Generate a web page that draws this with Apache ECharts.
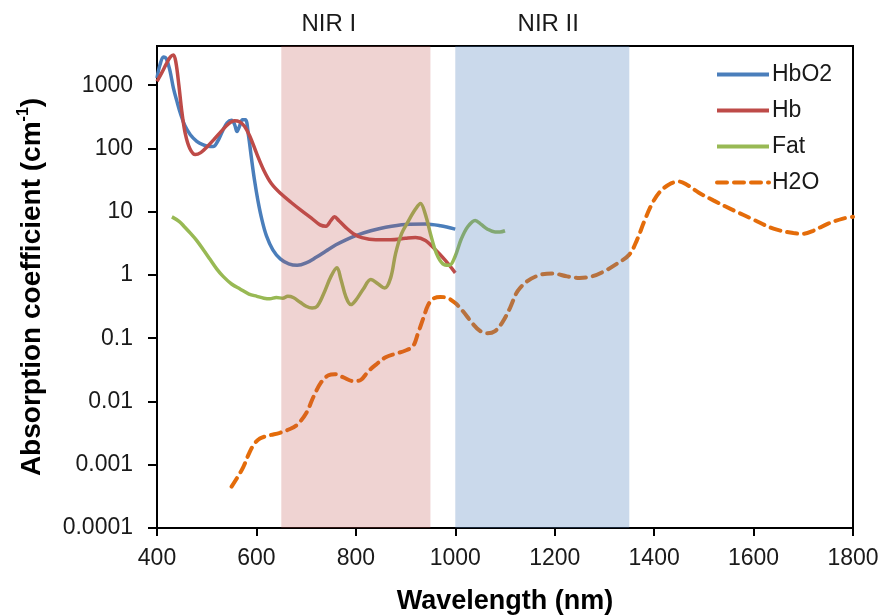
<!DOCTYPE html>
<html>
<head>
<meta charset="utf-8">
<script src="https://cdn.jsdelivr.net/npm/echarts@6/dist/echarts.min.js"></script>
<style>
  html, body { margin: 0; padding: 0; background: #fff; }
  #chart { width: 887px; height: 615px; }
</style>
</head>
<body>
<div id="chart"></div>
<script>
// Absorption spectra of tissue chromophores, [wavelength nm, coefficient cm^-1]
const hbo2 = [[400,1300],[406,2100],[413,2800],[419,2600],[426,1700],[433,900],[440,560],[447,360],[456,230],[467,165],[480,130],[492,115],[503,108],[513,107],[522,130],[532,190],[541,255],[550,280],[556,240],[561,185],[566,225],[572,285],[578,285],[584,160],[590,70],[596,32],[603,15],[611,7.5],[620,4.2],[633,2.5],[648,1.8],[665,1.5],[682,1.42],[700,1.55],[720,1.9],[740,2.4],[760,3.0],[780,3.6],[800,4.2],[830,5.0],[860,5.7],[900,6.3],[940,6.4],[970,6.0],[1000,5.3]];
const hb = [[400,1150],[410,1600],[419,2200],[427,2800],[433,3000],[438,2300],[444,1000],[450,380],[457,170],[466,100],[477,80],[488,86],[500,105],[515,140],[530,190],[545,250],[556,275],[566,265],[576,225],[587,155],[600,85],[615,45],[630,28],[650,19],[670,14],[690,10.5],[710,8.0],[728,6.2],[740,5.9],[750,7.3],[757,8.3],[766,7.2],[780,5.6],[795,4.5],[812,3.9],[840,3.6],[870,3.6],[900,3.8],[920,3.9],[940,3.5],[960,2.5],[980,1.7],[1000,1.08]];
const fat = [[430,8.3],[445,7.0],[455,5.8],[468,4.5],[480,3.5],[495,2.4],[507,1.75],[520,1.25],[533,0.95],[550,0.72],[567,0.6],[585,0.5],[601,0.46],[615,0.43],[627,0.42],[640,0.44],[653,0.43],[663,0.46],[674,0.44],[688,0.37],[700,0.32],[712,0.3],[722,0.32],[735,0.5],[750,0.95],[762,1.3],[770,0.85],[780,0.45],[790,0.34],[800,0.4],[815,0.6],[830,0.85],[845,0.72],[858,0.62],[870,0.9],[880,2.2],[892,4.5],[905,7.0],[920,11],[930,13.5],[940,9],[950,4.5],[962,2.2],[975,1.5],[988,1.42],[1000,2.0],[1012,3.7],[1025,5.8],[1040,7.3],[1052,6.3],[1065,5.3],[1080,4.8],[1090,4.8],[1100,5.0]];
const h2o = [[550,0.00045],[560,0.0006],[573,0.0009],[585,0.0015],[595,0.0021],[607,0.0026],[625,0.0029],[647,0.0032],[665,0.0036],[682,0.0043],[700,0.0065],[715,0.012],[730,0.02],[745,0.026],[758,0.027],[775,0.024],[795,0.021],[810,0.022],[825,0.03],[840,0.038],[860,0.05],[880,0.057],[900,0.064],[915,0.075],[925,0.12],[935,0.2],[945,0.33],[955,0.42],[970,0.45],[985,0.43],[1000,0.36],[1015,0.27],[1035,0.17],[1050,0.13],[1065,0.12],[1080,0.13],[1095,0.18],[1110,0.3],[1125,0.55],[1145,0.8],[1170,1.0],[1195,1.06],[1225,0.95],[1250,0.9],[1275,0.95],[1300,1.15],[1325,1.5],[1350,2.1],[1365,3.5],[1380,7],[1395,13],[1410,20],[1430,27],[1450,30],[1465,27],[1490,20],[1520,15],[1560,10.5],[1600,7.5],[1640,5.4],[1680,4.6],[1700,4.5],[1720,5.0],[1750,6.5],[1780,7.8],[1800,8.3]];

// Optical windows
const windowNames = ['NIR I', 'NIR II'];
const windowRanges = [[650, 950], [1000, 1350]];

// Axis ticks
const yTicks = [0.0001, 0.001, 0.01, 0.1, 1, 10, 100, 1000];
const seriesNames = ['HbO2', 'Hb', 'Fat', 'H2O'];

const FONT = '"Liberation Sans", Arial, sans-serif';
const TXT = '#1a1a1a';
const Y_TOP = 4170;

function fmtLog(v) {
  const e = Math.round(Math.log10(v));
  return e < 0 ? Number(v).toFixed(-e) : String(Math.round(v));
}

const chart = echarts.init(document.getElementById('chart'), null, { renderer: 'canvas' });

const lineBase = { type: 'line', symbol: 'none', showSymbol: false, smooth: 0.35, z: 2 };

chart.setOption({
  animation: false,
  backgroundColor: '#fff',
  textStyle: { fontFamily: FONT },
  grid: {
    left: 157, right: 34, top: 46, bottom: 87,
    outerBoundsMode: 'none', containLabel: false,
    show: true, borderColor: '#000', borderWidth: 2, backgroundColor: 'transparent'
  },
  legend: {
    data: seriesNames,
    orient: 'vertical',
    left: 710, top: 58,
    itemWidth: 52, itemHeight: 14, itemGap: 13,
    itemStyle: { opacity: 0, borderWidth: 0 },
    lineStyle: { width: 4 },
    textStyle: { fontFamily: FONT, fontSize: 23, color: TXT, padding: [0, 0, 0, -2] }
  },
  xAxis: {
    type: 'value', min: 400, max: 1800, interval: 200,
    name: 'Wavelength (nm)', nameLocation: 'middle', nameGap: 60,
    nameTextStyle: { fontFamily: FONT, fontSize: 27, fontWeight: 'bold', color: '#000' },
    axisLine: { show: true, lineStyle: { color: '#000', width: 2 } },
    axisTick: { show: true, inside: false, length: 8, lineStyle: { color: '#000', width: 2 } },
    axisLabel: { fontFamily: FONT, fontSize: 23, color: TXT, margin: 19, formatter: v => String(v) },
    splitLine: { show: false }
  },
  yAxis: {
    type: 'log', logBase: 10, min: 0.0001, max: Y_TOP,
    name: '{t|Absorption coefficient (cm}{s|-1}{t|)}', nameLocation: 'middle', nameGap: 109,
    nameTextStyle: {
      rich: {
        t: { fontFamily: FONT, fontSize: 28, fontWeight: 'bold', color: '#000', lineHeight: 32 },
        s: { fontFamily: FONT, fontSize: 16, fontWeight: 'bold', color: '#000', lineHeight: 32, verticalAlign: 'top' }
      }
    },
    axisLine: { show: true, lineStyle: { color: '#000', width: 2 } },
    axisTick: { show: true, inside: false, length: 9, customValues: yTicks, lineStyle: { color: '#000', width: 2 } },
    axisLabel: { fontFamily: FONT, fontSize: 23, color: TXT, margin: 24, customValues: yTicks, formatter: fmtLog },
    splitLine: { show: false }
  },
  series: [
    Object.assign({}, lineBase, { name: 'HbO2', data: hbo2, color: '#4A7EBB', lineStyle: { width: 3.5, color: '#4A7EBB' } }),
    Object.assign({}, lineBase, { name: 'Hb', data: hb, color: '#BE4B48', lineStyle: { width: 3.5, color: '#BE4B48' } }),
    Object.assign({}, lineBase, { name: 'Fat', data: fat, color: '#98B954', lineStyle: { width: 3.5, color: '#98B954' } }),
    Object.assign({}, lineBase, { name: 'H2O', data: h2o, color: '#E46C0A', lineStyle: { width: 4, color: '#E46C0A', type: [10, 7], cap: 'round' } }),
    {
      // translucent optical-window bands laid over the spectra
      name: 'windows', type: 'line', data: [], symbol: 'none',
      markArea: {
        silent: true, z: 5,
        label: { show: true, position: 'top', distance: 10, fontFamily: FONT, fontSize: 24, color: TXT },
        data: windowRanges.map((r, i) => [
          { name: windowNames[i], xAxis: r[0], yAxis: Y_TOP,
            itemStyle: { color: i === 0 ? 'rgba(192,80,77,0.25)' : 'rgba(79,129,189,0.3)' },
            label: { offset: [i === 0 ? -27 : 6, 0] } },
          { xAxis: r[1], yAxis: 0.0001 }
        ])
      }
    }
  ]
});
</script>
</body>
</html>
